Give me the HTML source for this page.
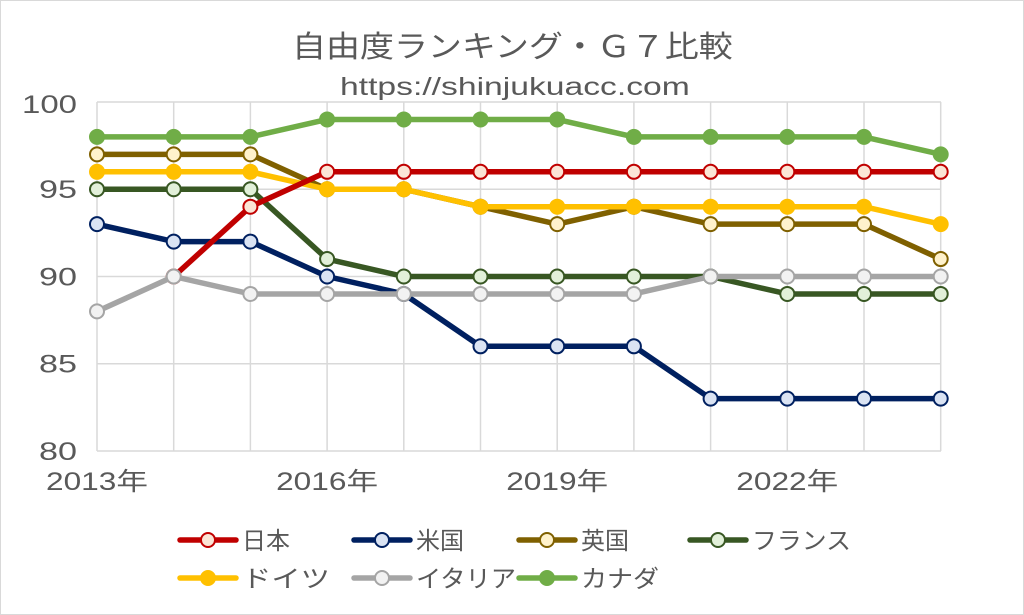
<!DOCTYPE html>
<html><head><meta charset="utf-8"><style>
html,body{margin:0;padding:0;background:#fff;}
svg{display:block;font-family:"Liberation Sans","Noto Sans CJK JP",sans-serif;}
</style></head><body>
<svg id="s" width="1024" height="615" viewBox="0 0 1024 615" xmlns="http://www.w3.org/2000/svg">
<rect x="0.5" y="0.5" width="1023" height="614" fill="#fff" stroke="#d9d9d9"/>
<g id="grid" stroke="#d9d9d9" stroke-width="1.5"></g>
<g id="labels" fill="#595959"></g>
<g id="series"></g>
<g id="legend" fill="#595959"></g>
</svg>
<script>
var NS="http://www.w3.org/2000/svg";
function el(p,t,a,txt){var e=document.createElementNS(NS,t);for(var k in a)e.setAttribute(k,a[k]);if(txt)e.textContent=txt;p.appendChild(e);return e;}
// place text with left edge x, right edge x2 (scaled horizontally)
function fit(p,txt,x,x2,y,fs){
  var t=el(p,'text',{x:0,y:y,"font-size":fs},txt);
  var w=t.getComputedTextLength();var sx=(x2-x)/w;
  t.setAttribute('transform','translate('+x+',0) scale('+sx+',1)');return t;}
function X(i){return 97+i*76.7;}
function Y(v){return 102+(100-v)*17.45;}
var g=document.getElementById('grid');
for(var i=0;i<12;i++)el(g,'line',{x1:X(i),x2:X(i),y1:102,y2:451});
for(var v=80;v<=100;v+=5)el(g,'line',{x1:97,x2:941,y1:Y(v),y2:Y(v)});
var lb=document.getElementById('labels');
fit(lb,"自由度ランキング・Ｇ７比較",292,733,57,30);
fit(lb,"https://shinjukuacc.com",340,690,95,25);
fit(lb,"100",22,77,113,25);
[95,90,85,80].forEach(function(v){fit(lb,String(v),39,77,Y(v)+9,25);});
[["2013年",0],["2016年",3],["2019年",6],["2022年",9]].forEach(function(a){var c=X(a[1]);fit(lb,a[0],c-51,c+51,490,25);});
var S={
jp:{n:"日本",w:48,c:"#c00000",f:"#fbe5d6",d:[null,90,94,96,96,96,96,96,96,96,96,96]},
us:{n:"米国",w:48,c:"#002060",f:"#dae3f3",d:[93,92,92,90,89,86,86,86,83,83,83,83]},
uk:{n:"英国",w:48,c:"#7f6000",f:"#fff2cc",d:[97,97,97,95,95,94,93,94,93,93,93,91]},
fr:{n:"フランス",w:99,c:"#385723",f:"#e2f0d9",d:[95,95,95,91,90,90,90,90,90,89,89,89]},
de:{n:"ドイツ",w:88,c:"#ffc000",f:"#ffc000",d:[96,96,96,95,95,94,94,94,94,94,94,93]},
it:{n:"イタリア",w:100,c:"#a5a5a5",f:"#f2f2f2",d:[88,90,89,89,89,89,89,89,90,90,90,90]},
ca:{n:"カナダ",w:78,c:"#70ad47",f:"#70ad47",d:[98,98,98,99,99,99,99,98,98,98,98,97]}};
var sg=document.getElementById('series');
["us","uk","fr","de","jp","it","ca"].forEach(function(k){
var s=S[k],pts=[];
s.d.forEach(function(v,i){if(v!=null)pts.push(X(i)+","+Y(v));});
el(sg,'polyline',{points:pts.join(" "),fill:"none",stroke:s.c,"stroke-width":5.5,"stroke-linejoin":"round","stroke-linecap":"round"});
s.d.forEach(function(v,i){if(v!=null)el(sg,'circle',{cx:X(i),cy:Y(v),r:7,fill:s.f,stroke:s.c,"stroke-width":2});});
});
var lg=document.getElementById('legend');
var L=[["jp",178,540],["us",352,540],["uk",517,540],["fr",688,540],["de",178,578],["it",352,578],["ca",517,578]];
L.forEach(function(a){var s=S[a[0]],x=a[1],y=a[2];
el(lg,'line',{x1:x+2,x2:x+58,y1:y,y2:y,stroke:s.c,"stroke-width":5.5,"stroke-linecap":"round"});
el(lg,'circle',{cx:x+30,cy:y,r:7,fill:s.f,stroke:s.c,"stroke-width":2});
fit(lg,s.n,x+64,x+64+s.w,y+9,24);});
</script>
</body></html>
